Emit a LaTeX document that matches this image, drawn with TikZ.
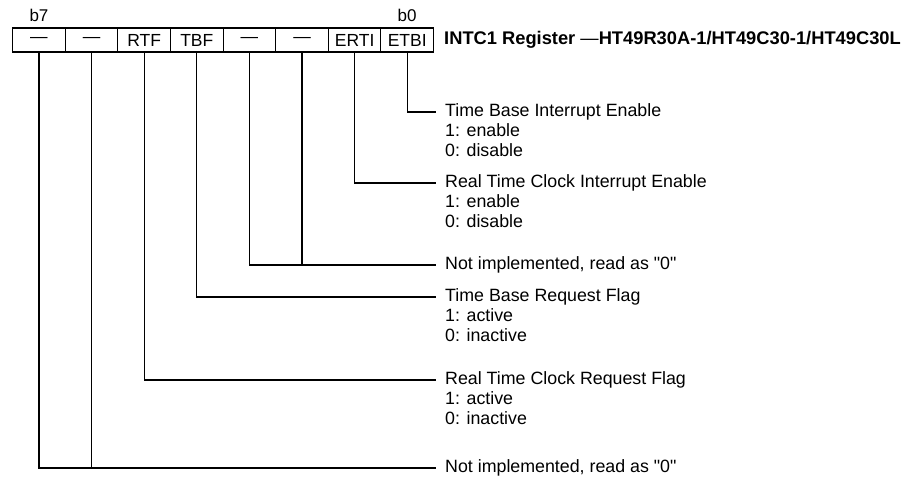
\documentclass[tikz,border=0pt]{standalone}
\usepackage{fontspec}
\setmainfont{Liberation Sans}[Ligatures=TeXOff]
\usetikzlibrary{positioning}

\begin{document}
\begin{tikzpicture}[x=1pt,y=-1pt,
  cell/.style={rectangle,draw,line width=1.1pt,minimum width=52.6pt,minimum height=24pt,inner sep=0pt,font=\fontsize{17.5}{20}\selectfont},
  bitlbl/.style={inner sep=0pt,font=\fontsize{17}{20}\selectfont},
  title/.style={inner sep=0pt,anchor=west,font=\fontsize{18.3}{20}\selectfont\bfseries},
  desc/.style={inner sep=0pt,anchor=west,font=\fontsize{17.8}{20}\selectfont},
  vals/.style={inner sep=0pt,anchor=north west,align=left,font=\fontsize{17.8}{20}\selectfont},
  wire/.style={line width=1.1pt}]
  \useasboundingbox (0,0) rectangle (914,483);
  % register cells, bit 7 on the left
  \foreach \lbl [count=\i from 0] in {\textemdash,\textemdash,RTF,TBF,\textemdash,\textemdash,ERTI,ETBI}{
    \pgfmathtruncatemacro\bitno{7-\i}
    \node[cell] (b\bitno) at (39+52.6*\i,40) {\lbl};
  }
  \node[bitlbl,above=6pt of b7] (lb7) {b7};
  \node[bitlbl,above=6pt of b0] (lb0) {b0};
  \node[title] (regname) at (444,40) {INTC1 Register \textmd{\textemdash}HT49R30A-1/HT49C30-1/HT49C30L};

  % bit descriptions
  \node[desc] (etbi) at (445,112) {Time Base Interrupt Enable};
  \node[below=3pt of etbi.south west,vals] (etbiv) {1: enable\\0: disable};
  \node[desc] (erti) at (445,183) {Real Time Clock Interrupt Enable};
  \node[below=3pt of erti.south west,vals] (ertiv) {1: enable\\0: disable};
  \node[desc] (nilo) at (445,265) {Not implemented, read as "0"};
  \node[desc] (tbf) at (445,297) {Time Base Request Flag};
  \node[below=3pt of tbf.south west,vals] (tbfv) {1: active\\0: inactive};
  \node[desc] (rtf) at (445,380) {Real Time Clock Request Flag};
  \node[below=3pt of rtf.south west,vals] (rtfv) {1: active\\0: inactive};
  \node[desc] (nihi) at (445,468) {Not implemented, read as "0"};

  % connectors
  \draw[wire] (b0.south) |- ([xshift=-9pt]etbi.west);
  \draw[wire] (b1.south) |- ([xshift=-9pt]erti.west);
  \draw[wire] (b3.south) |- ([xshift=-9pt]nilo.west);
  \draw[wire] (b2.south) -- (b2.south |- nilo.west);
  \draw[wire] (b4.south) |- ([xshift=-9pt]tbf.west);
  \draw[wire] (b5.south) |- ([xshift=-9pt]rtf.west);
  \draw[wire] (b7.south) |- ([xshift=-9pt]nihi.west);
  \draw[wire] (b6.south) -- (b6.south |- nihi.west);
\end{tikzpicture}
\end{document}
